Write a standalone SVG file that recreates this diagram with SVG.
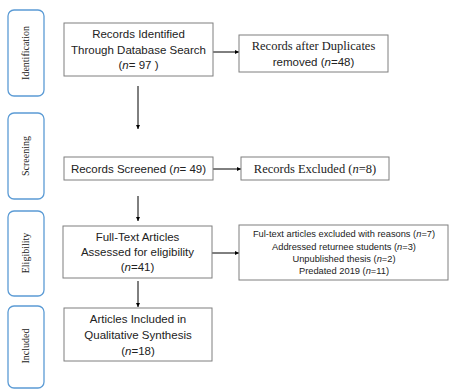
<svg xmlns="http://www.w3.org/2000/svg" width="450" height="390" viewBox="0 0 450 390">
<defs>
<style>
.box{fill:#fff;stroke:#7f7f7f;stroke-width:1}
.side{fill:#fff;stroke:#5b9bd5;stroke-width:1.3}
.t{font-family:"Liberation Sans",Arial,sans-serif;font-size:11.5px;fill:#222;text-anchor:middle}
.tr{font-family:"Liberation Serif","Times New Roman",serif;font-size:12.5px;fill:#222;text-anchor:middle}
.s{font-family:"Liberation Sans",Arial,sans-serif;font-size:9.3px;fill:#222;text-anchor:middle}
.r{font-family:"Liberation Serif","Times New Roman",serif;font-size:10px;fill:#222;text-anchor:middle}
.c{stroke:#000;stroke-width:1;fill:none;marker-end:url(#ah)}
</style>
<marker id="ah" viewBox="0 0 6 6" refX="6" refY="3" markerWidth="4" markerHeight="4" orient="auto"><path d="M0,0L6,3L0,6z" fill="#000"/></marker>
</defs>
<rect width="450" height="390" fill="#fff"/>
<g id="side-identification"><rect class="side" x="8" y="10" width="36" height="86" rx="6"/><text class="r" transform="translate(29,53) rotate(-90)">Identification</text></g>
<g id="side-screening"><rect class="side" x="8" y="113" width="36" height="86" rx="6"/><text class="r" transform="translate(29,156) rotate(-90)">Screening</text></g>
<g id="side-eligibility"><rect class="side" x="8" y="211" width="36" height="85" rx="6"/><text class="r" transform="translate(29,253) rotate(-90)">Eligibility</text></g>
<g id="side-included"><rect class="side" x="8" y="306" width="36" height="82" rx="6"/><text class="r" transform="translate(29,346) rotate(-90)">Included</text></g>
<g id="connectors">
<line class="c" x1="213" y1="52" x2="239" y2="52"/>
<line class="c" x1="138" y1="86" x2="138" y2="129"/>
<line class="c" x1="213" y1="169" x2="241" y2="169"/>
<line class="c" x1="138" y1="196" x2="138" y2="221"/>
<line class="c" x1="212" y1="253" x2="239" y2="253"/>
<line class="c" x1="138" y1="281" x2="138" y2="307"/>
</g>
<g id="n1"><rect class="box" x="64" y="23" width="149" height="53"/>
<text class="t" x="138.5" y="38">Records Identified</text>
<text class="t" x="138.5" y="54">Through Database Search</text>
<text class="t" x="138.5" y="69">(<tspan font-style="italic">n</tspan>= 97 )</text></g>
<g id="n2"><rect class="box" x="239" y="35" width="149" height="37"/>
<text class="tr" x="313.5" y="50">Records after Duplicates</text>
<text class="t" x="313.5" y="66">removed (<tspan font-style="italic">n</tspan>=48)</text></g>
<g id="n3"><rect class="box" x="64" y="157" width="149" height="23"/>
<text class="t" x="138.5" y="173">Records Screened (<tspan font-style="italic">n</tspan>= 49)</text></g>
<g id="n4"><rect class="box" x="241" y="157" width="148" height="23"/>
<text class="tr" x="315" y="173">Records Excluded  (<tspan font-style="italic">n</tspan>=8)</text></g>
<g id="n5"><rect class="box" x="63" y="226" width="149" height="52"/>
<text class="t" x="137.5" y="241">Full-Text Articles</text>
<text class="t" x="137.5" y="256">Assessed  for eligibility</text>
<text class="t" x="137.5" y="271">(<tspan font-style="italic">n</tspan>=41)</text></g>
<g id="n6"><rect class="box" x="239" y="225" width="209" height="55"/>
<text class="s" x="344" y="237">Ful-text articles excluded with reasons (<tspan font-style="italic">n</tspan>=7)</text>
<text class="s" x="344" y="250">Addressed returnee students (<tspan font-style="italic">n</tspan>=3)</text>
<text class="s" x="344" y="262">Unpublished thesis (<tspan font-style="italic">n</tspan>=2)</text>
<text class="s" x="344" y="274">Predated 2019 (<tspan font-style="italic">n</tspan>=11)</text></g>
<g id="n7"><rect class="box" x="64" y="308" width="148" height="53"/>
<text class="t" x="138" y="323">Articles  Included in</text>
<text class="t" x="138" y="339">Qualitative Synthesis</text>
<text class="t" x="138" y="355">(<tspan font-style="italic">n</tspan>=18)</text></g>
</svg>
